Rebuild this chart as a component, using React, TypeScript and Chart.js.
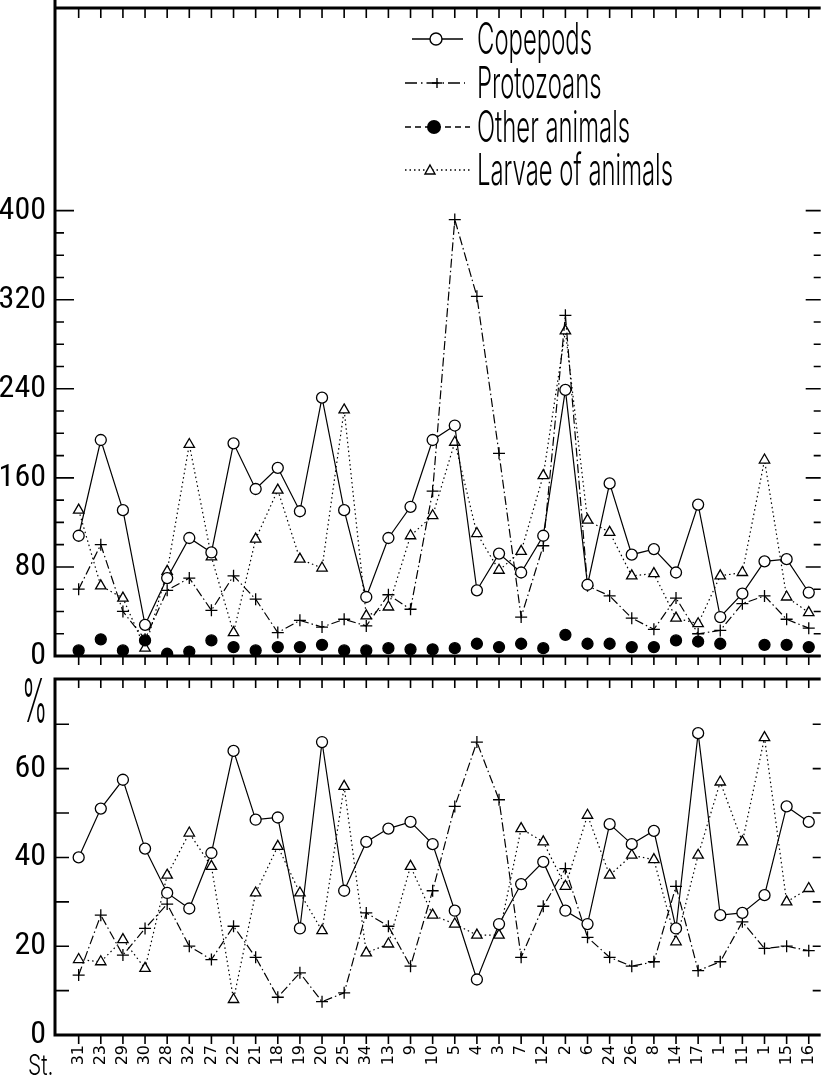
import React, { useEffect, useRef } from 'react';
import { Chart, registerables } from 'chart.js';

Chart.register(...registerables);

// ---- data ----
const stations = ['31', '23', '29', '30', '28', '32', '27', '22', '21', '18', '19', '20', '25', '34', '13', '9', '10', '5', '4', '3', '7', '12', '2', '6', '24', '26', '8', '14', '17', '1', '11', '1', '15', '16'];

// upper panel: abundance
const copepods = [108, 194, 131, 28, 70, 106, 93, 191, 150, 169, 130, 232, 131, 53, 106, 134, 194, 207, 59, 92, 75, 108, 239, 64, 155, 91, 96, 75, 136, 35, 56, 85, 87, 57];
const protozoans = [60, 100, 40, 15, 59, 70, 41, 72, 51, 21, 32, 26, 33, 27, 55, 42, 148, 392, 323, 182, 35, 99, 306, 63, 54, 34, 24, 52, 20, 23, 47, 54, 33, 25];
const otherAnimals = [5, 15, 5, 14, 2, 4, 14, 8, 5, 8, 8, 10, 5, 5, 7, 6, 6, 7, 11, 8, 11, 7, 19, 11, 11, 8, 8, 14, 13, 11, null, 10, 10, 8];
const larvae = [131, 63, 52, 7, 76, 190, 89, 21, 105, 149, 87, 79, 221, 36, 44, 108, 126, 192, 110, 77, 94, 162, 292, 122, 111, 72, 74, 34, 29, 72, 75, 176, 53, 39];

// lower panel: percentage
const copepodsPct = [40, 51, 57.5, 42, 32, 28.5, 41, 64, 48.5, 49, 24, 66, 32.5, 43.5, 46.5, 48, 43, 28, 12.5, 25, 34, 39, 28, 25, 47.5, 43, 46, 24, 68, 27, 27.5, 31.5, 51.5, 48];
const protozoansPct = [13.5, 27, 18, 24, 29.5, 20, 17, 24.5, 17.5, 8.5, 14, 7.5, 9.5, 27.5, 24.5, 15.5, 32.5, 51.5, 66, 53, 17.5, 29, 37.5, 22, 17.5, 15.5, 16.5, 33.5, 14.5, 16.5, 25.5, 19.5, 20, 19];
const larvaePct = [17, 16.5, 21.5, 15, 36, 45.5, 38, 8, 32, 42.5, 32, 23.5, 56, 18.5, 20.5, 38, 27, 25, 22.5, 22.5, 46.5, 43.5, 33.5, 49.5, 36, 40.5, 39.5, 21, 40.5, 57, 43.5, 67, 30, 33];

const topTicks = [0, 80, 160, 240, 320, 400];
const pctTicks = [0, 20, 40, 60];
const legendLabels = ['Copepods', 'Protozoans', 'Other animals', 'Larvae of animals'];

// ---- layout constants ----
const W = 828;
const H = 1079;
const LEFT = 55;
const X_MIN = -1.07;
const X_MAX = 33.54;
const TOP_MAX = 582;
const PCT_MAX = 80.2;
const TOP_H = 680;
const TOP_AREA_BOTTOM = 656;
const BOT_AREA_TOP = 679;
const BOT_AREA_BOTTOM = 1035;

const NARROW = '"Liberation Sans Narrow", "Roboto Condensed", "DejaVu Sans Condensed", "DejaVu Sans", sans-serif';
const LIGHT = 'Inter, "DejaVu Sans", sans-serif';

const pts = (arr: (number | null)[]) => arr.map((v, i) => ({ x: i, y: v }));

const lineBase = {
  borderColor: '#000',
  pointBorderColor: '#000',
  borderWidth: 1.2,
  pointBorderWidth: 1.3,
  tension: 0,
  fill: false,
  spanGaps: false,
};

function copeDs(d: number[]) {
  return { ...lineBase, label: legendLabels[0], data: pts(d), pointStyle: 'circle', pointRadius: 5.5, pointBackgroundColor: '#fff' };
}
function protoDs(d: number[]) {
  return { ...lineBase, label: legendLabels[1], data: pts(d), borderDash: [9, 3, 1.5, 3], pointStyle: 'cross', pointRadius: 6, pointBackgroundColor: '#fff' };
}
function otherDs(d: (number | null)[]) {
  return { ...lineBase, label: legendLabels[2], data: pts(d), showLine: false, pointStyle: 'circle', pointRadius: 5.5, pointBackgroundColor: '#000' };
}
function larvaeDs(d: number[]) {
  return { ...lineBase, label: legendLabels[3], data: pts(d), borderDash: [1.5, 3], pointStyle: 'triangle', pointRadius: 6, pointBackgroundColor: '#fff' };
}

function drawMarker(ctx: CanvasRenderingContext2D, kind: number, x: number, y: number) {
  ctx.save();
  ctx.setLineDash([]);
  ctx.lineWidth = 1.4;
  ctx.strokeStyle = '#000';
  ctx.beginPath();
  if (kind === 0) {
    ctx.fillStyle = '#fff';
    ctx.arc(x, y, 6, 0, Math.PI * 2);
    ctx.fill();
    ctx.stroke();
  } else if (kind === 1) {
    ctx.moveTo(x - 5, y); ctx.lineTo(x + 5, y);
    ctx.moveTo(x, y - 5); ctx.lineTo(x, y + 5);
    ctx.stroke();
  } else if (kind === 2) {
    ctx.fillStyle = '#000';
    ctx.arc(x, y, 7, 0, Math.PI * 2);
    ctx.fill();
  } else {
    ctx.fillStyle = '#fff';
    ctx.moveTo(x, y - 5); ctx.lineTo(x + 5, y + 4); ctx.lineTo(x - 5, y + 4); ctx.closePath();
    ctx.fill();
    ctx.stroke();
  }
  ctx.restore();
}

const topFrame = {
  id: 'topFrame',
  afterDraw(chart: any) {
    const { ctx, chartArea: a, scales } = chart;
    const xs = scales.x;
    const ys = scales.y;
    ctx.save();
    ctx.strokeStyle = '#000';
    ctx.lineWidth = 3;
    ctx.beginPath();
    ctx.moveTo(a.left, 0); ctx.lineTo(a.left, a.bottom + 1.5);
    ctx.moveTo(a.left, a.top); ctx.lineTo(a.right, a.top);
    ctx.moveTo(a.left, a.bottom); ctx.lineTo(a.right, a.bottom);
    ctx.stroke();
    ctx.lineWidth = 1.6;
    ctx.beginPath();
    for (let v = 0; v <= 400; v += 20) {
      const y = ys.getPixelForValue(v);
      const major = v % 80 === 0;
      ctx.moveTo(a.left, y); ctx.lineTo(a.left + (major ? 19 : 9), y);
      ctx.moveTo(a.right, y); ctx.lineTo(a.right - (major ? 15 : 7), y);
    }
    stations.forEach((_, i) => {
      const x = xs.getPixelForValue(i);
      ctx.moveTo(x, a.top); ctx.lineTo(x, a.top + 10);
      ctx.moveTo(x, a.bottom); ctx.lineTo(x, a.bottom + 9);
    });
    ctx.stroke();

    // legend
    const rows = [54, 98, 142, 185];
    ctx.font = '300 44px ' + LIGHT;
    const sx = 115 / ctx.measureText(legendLabels[0]).width;
    rows.forEach((base, k) => {
      const ly = base - 15;
      ctx.save();
      ctx.lineWidth = 1.3;
      ctx.strokeStyle = '#000';
      ctx.beginPath();
      if (k === 0) { ctx.setLineDash([]); ctx.moveTo(412, ly); ctx.lineTo(463, ly); }
      else if (k === 1) { ctx.setLineDash([12, 4, 1.5, 4]); ctx.moveTo(405, ly); ctx.lineTo(465, ly); }
      else if (k === 2) { ctx.setLineDash([6, 4]); ctx.moveTo(405, ly); ctx.lineTo(470, ly); }
      else { ctx.setLineDash([1.5, 3]); ctx.moveTo(405, ly); ctx.lineTo(470, ly); }
      ctx.stroke();
      ctx.restore();
      const mx = k === 0 ? 436 : k === 1 ? 437 : k === 2 ? 434 : 430;
      drawMarker(ctx, k, mx, ly);
      ctx.save();
      ctx.fillStyle = '#000';
      ctx.textBaseline = 'alphabetic';
      ctx.textAlign = 'left';
      ctx.scale(sx, 1);
      ctx.fillText(legendLabels[k], 477 / sx, base);
      ctx.restore();
    });
    ctx.restore();
  },
};

const bottomFrame = {
  id: 'bottomFrame',
  afterDraw(chart: any) {
    const { ctx, chartArea: a, scales } = chart;
    const xs = scales.x;
    const ys = scales.y;
    ctx.save();
    ctx.strokeStyle = '#000';
    ctx.lineWidth = 3;
    ctx.beginPath();
    ctx.moveTo(a.left, a.top - 1.5); ctx.lineTo(a.left, a.bottom + 1.5);
    ctx.moveTo(a.left, a.top); ctx.lineTo(a.right, a.top);
    ctx.moveTo(a.left, a.bottom); ctx.lineTo(a.right, a.bottom);
    ctx.stroke();
    ctx.lineWidth = 1.6;
    ctx.beginPath();
    for (let v = 10; v <= 70; v += 10) {
      const y = ys.getPixelForValue(v);
      ctx.moveTo(a.left, y); ctx.lineTo(a.left + 14, y);
      ctx.moveTo(a.right, y); ctx.lineTo(a.right - 8, y);
    }
    stations.forEach((_, i) => {
      const x = xs.getPixelForValue(i);
      ctx.moveTo(x, a.top); ctx.lineTo(x, a.top + 9);
      ctx.moveTo(x, a.bottom); ctx.lineTo(x, a.bottom + 9);
    });
    ctx.stroke();

    // % sign and station marker
    ctx.fillStyle = '#000';
    ctx.save();
    ctx.font = '300 60px ' + LIGHT;
    ctx.textAlign = 'left';
    ctx.textBaseline = 'alphabetic';
    ctx.scale(0.45, 1);
    ctx.fillText('%', 22 / 0.45, 722);
    ctx.restore();
    ctx.save();
    ctx.font = '300 28px ' + LIGHT;
    ctx.textAlign = 'left';
    ctx.textBaseline = 'alphabetic';
    ctx.scale(0.75, 1);
    ctx.fillText('St.', 28 / 0.75, 1075);
    ctx.restore();
    ctx.restore();
  },
};

const zeroPad = (s: any) => { s.paddingTop = 0; s.paddingBottom = 0; s.paddingLeft = 0; s.paddingRight = 0; };

export default function App() {
  const topRef = useRef<HTMLCanvasElement>(null);
  const botRef = useRef<HTMLCanvasElement>(null);

  useEffect(() => {
    const tickFont = { family: NARROW, size: 32, weight: 'normal condensed' as any };
    const top = new Chart(topRef.current as HTMLCanvasElement, {
      type: 'line',
      data: { datasets: [copeDs(copepods), protoDs(protozoans), otherDs(otherAnimals), larvaeDs(larvae)] as any },
      options: {
        responsive: false,
        animation: false,
        layout: { padding: { top: 8, left: 0, right: 0, bottom: 0 } },
        plugins: { legend: { display: false }, tooltip: { enabled: false } },
        scales: {
          x: {
            type: 'linear', min: X_MIN, max: X_MAX,
            grid: { display: false, drawTicks: false }, border: { display: false },
            ticks: { display: false },
            afterFit: (s: any) => { s.height = TOP_H - TOP_AREA_BOTTOM; zeroPad(s); },
          },
          y: {
            type: 'linear', min: 0, max: TOP_MAX,
            grid: { display: false, drawTicks: false }, border: { display: false },
            afterBuildTicks: (s: any) => { s.ticks = topTicks.map((v) => ({ value: v })); },
            ticks: { color: '#000', font: tickFont, padding: 9 },
            afterFit: (s: any) => { s.width = LEFT; zeroPad(s); },
          },
        },
      } as any,
      plugins: [topFrame],
    });

    const bot = new Chart(botRef.current as HTMLCanvasElement, {
      type: 'line',
      data: { datasets: [copeDs(copepodsPct), protoDs(protozoansPct), larvaeDs(larvaePct)] as any },
      options: {
        responsive: false,
        animation: false,
        layout: { padding: { top: BOT_AREA_TOP, left: 0, right: 0, bottom: 0 } },
        plugins: { legend: { display: false }, tooltip: { enabled: false } },
        scales: {
          x: {
            type: 'linear', min: X_MIN, max: X_MAX,
            grid: { display: false, drawTicks: false }, border: { display: false },
            afterBuildTicks: (s: any) => { s.ticks = stations.map((_, i) => ({ value: i })); },
            ticks: {
              color: '#000', autoSkip: false, minRotation: 90, maxRotation: 90, padding: 10,
              font: { family: '"DejaVu Sans", sans-serif', size: 16 },
              callback: (v: any) => stations[v] ?? '',
            },
            afterFit: (s: any) => { s.height = H - BOT_AREA_BOTTOM; zeroPad(s); },
          },
          y: {
            type: 'linear', min: 0, max: PCT_MAX,
            grid: { display: false, drawTicks: false }, border: { display: false },
            afterBuildTicks: (s: any) => { s.ticks = pctTicks.map((v) => ({ value: v })); },
            ticks: { color: '#000', font: tickFont, padding: 9 },
            afterFit: (s: any) => { s.width = LEFT; zeroPad(s); },
          },
        },
      } as any,
      plugins: [bottomFrame],
    });

    return () => { top.destroy(); bot.destroy(); };
  }, []);

  return (
    <div style={{ position: 'absolute', left: 0, top: 0, width: W, height: H, background: '#fff' }}>
      <canvas ref={botRef} width={W} height={H} style={{ position: 'absolute', left: 0, top: 0 }} />
      <canvas ref={topRef} width={W} height={TOP_H} style={{ position: 'absolute', left: 0, top: 0 }} />
    </div>
  );
}
